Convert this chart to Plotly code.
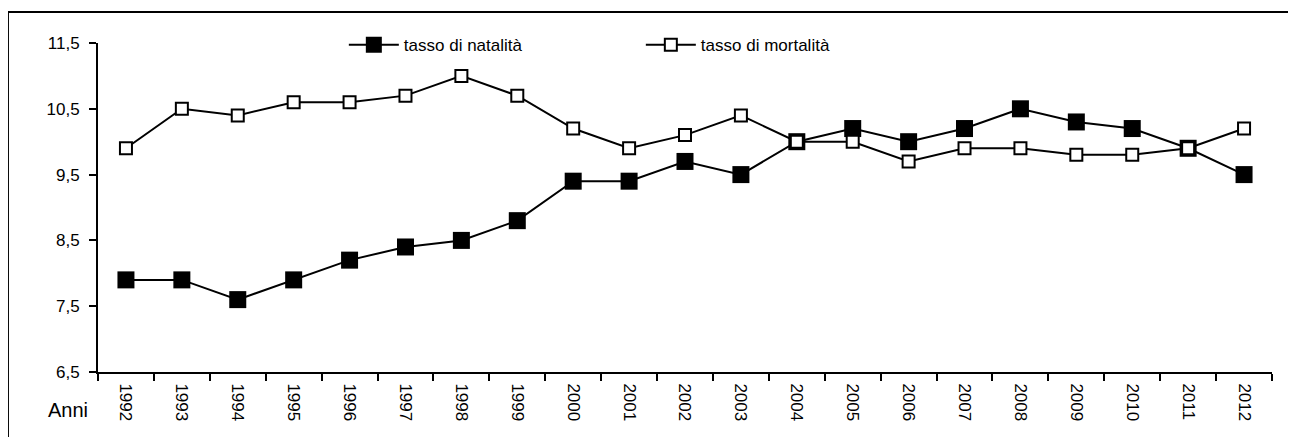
import plotly.graph_objects as go

anni = [str(a) for a in range(1992, 2013)]
natalita = [7.9, 7.9, 7.6, 7.9, 8.2, 8.4, 8.5, 8.8, 9.4, 9.4, 9.7,
            9.5, 10.0, 10.2, 10.0, 10.2, 10.5, 10.3, 10.2, 9.9, 9.5]
mortalita = [9.9, 10.5, 10.4, 10.6, 10.6, 10.7, 11.0, 10.7, 10.2, 9.9, 10.1,
             10.4, 10.0, 10.0, 9.7, 9.9, 9.9, 9.8, 9.8, 9.9, 10.2]
y_ticks = [6.5, 7.5, 8.5, 9.5, 10.5, 11.5]
y_labels = ["6,5", "7,5", "8,5", "9,5", "10,5", "11,5"]

FONT = "Liberation Sans, Arial, sans-serif"

fig = go.Figure()
fig.add_trace(go.Scatter(
    x=anni, y=natalita, mode="lines+markers", name="tasso di natalità",
    line=dict(color="black", width=2),
    marker=dict(symbol="square", size=17, color="black"),
))
fig.add_trace(go.Scatter(
    x=anni, y=mortalita, mode="lines+markers", name="tasso di mortalità",
    line=dict(color="black", width=2),
    marker=dict(symbol="square", size=12, color="white",
                line=dict(color="black", width=2)),
))

# page body adds 8px offset, margins compensate for it
fig.update_layout(
    width=1296, height=437,
    margin=dict(l=90, r=32, t=35, b=73, autoexpand=False),
    plot_bgcolor="white", paper_bgcolor="white",
    font=dict(family=FONT, size=17, color="black"),
    showlegend=True,
    legend=dict(orientation="h", x=0.2094, xanchor="left", y=0.993, yanchor="middle",
                bgcolor="rgba(0,0,0,0)", entrywidth=232, itemwidth=50,
                font=dict(size=17)),
    shapes=[dict(type="rect", xref="paper", yref="paper",
                 x0=-0.0767, x1=1.2, y0=-0.6, y1=1.094,
                 line=dict(color="black", width=2))],
    annotations=[dict(text="Anni", xref="paper", yref="paper", x=-0.0068, y=-0.1155,
                      xanchor="right", yanchor="middle", showarrow=False,
                      font=dict(size=20))],
)
fig.update_xaxes(
    type="category", range=[-0.5, len(anni) - 0.5],
    tickson="boundaries", ticks="outside", ticklen=7,
    tickwidth=2, tickcolor="black", showline=True, linecolor="black", linewidth=2,
    showgrid=False, tickangle=90, tickfont=dict(size=17), ticklabelstandoff=6,
)
fig.update_yaxes(
    range=[6.5, 11.5], tickvals=y_ticks, ticktext=y_labels,
    ticks="outside", ticklen=7, tickwidth=2, tickcolor="black",
    showline=True, linecolor="black", linewidth=2, showgrid=False,
    zeroline=False, tickfont=dict(size=17), ticklabelstandoff=6,
)

fig.write_html("out.html")
